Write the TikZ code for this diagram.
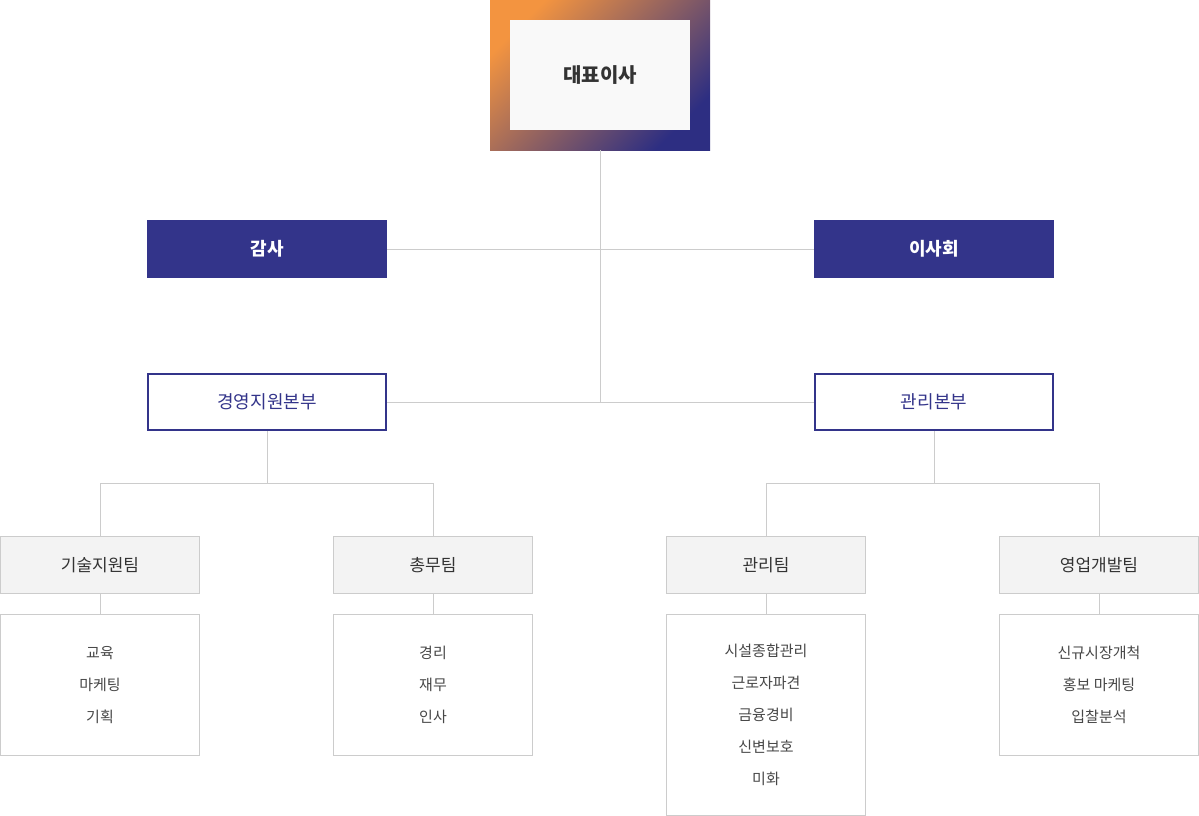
\documentclass[tikz,border=0pt]{standalone}
\usepackage{fontspec}
\usepackage{xcolor}
\newfontfamily\cjk{Noto Sans CJK KR}
\usetikzlibrary{calc, positioning}
\definecolor{Navy}{HTML}{33348A}
\definecolor{GradOrange}{HTML}{F39440}
\definecolor{GradNavy}{HTML}{2D2E82}
\definecolor{LineGray}{HTML}{CCCCCC}
\definecolor{TeamFill}{HTML}{F3F3F3}
\definecolor{CeoFill}{HTML}{F9F9F9}
\definecolor{InkDark}{HTML}{333333}
\tikzset{>=latex,
  conn/.style={draw=LineGray, line width=1pt},
  darkbox/.style={fill=Navy, text=white, minimum width=240pt, minimum height=58pt, inner sep=0pt, font=\cjk\fontsize{18}{20}\selectfont\bfseries},
  linebox/.style={draw=Navy, line width=2pt, fill=white, text=Navy, minimum width=238pt, minimum height=56pt, inner sep=0pt, font=\cjk\fontsize{18}{20}\selectfont},
  teambox/.style={draw=LineGray, line width=1pt, fill=TeamFill, text=InkDark, minimum width=199pt, minimum height=57pt, inner sep=0pt, font=\cjk\fontsize{17}{20}\selectfont},
  itembox/.style={draw=LineGray, line width=1pt, fill=white, text=InkDark!90, minimum width=199pt, anchor=north, inner sep=0pt, align=center, font=\cjk\fontsize{15}{32}\selectfont}}

\begin{document}
\begin{tikzpicture}[x=1pt, y=-1pt]
\useasboundingbox (0,0) rectangle (1199,816);
% top
\shade[top color=GradOrange, bottom color=GradNavy, shading angle=45] (490,0) rectangle (710,150);
\node[fill=CeoFill, minimum width=180pt, minimum height=110pt, inner sep=0pt, text=InkDark, font=\cjk\fontsize{20}{22}\selectfont\bfseries] (ceo) at (600,75) {대표이사};
\coordinate (ceoFoot) at (600,150);
\coordinate (hubLow) at (600,402);
% second level
\node[darkbox] (audit) at (267,249) {감사};
\node[darkbox] (board) at (934,249) {이사회};
\node[linebox] (support) at (267,402) {경영지원본부};
\node[linebox] (admin) at (934,402) {관리본부};
\draw[conn] (ceoFoot) -- (hubLow);
\draw[conn] (audit) -- (board);
\draw[conn] (support) -- (admin);
% teams
\node[teambox] (techTeam) at (100,565) {기술지원팀};
\node[teambox] (genTeam) at (433,565) {총무팀};
\node[teambox] (admTeam) at (766,565) {관리팀};
\node[teambox] (salesTeam) at (1099,565) {영업개발팀};
\coordinate (splitL) at (267,483);
\coordinate (splitR) at (934,483);
\draw[conn] (support.south) -- (splitL) -| (techTeam.north);
\draw[conn] (splitL) -| (genTeam.north);
\draw[conn] (admin.south) -- (splitR) -| (admTeam.north);
\draw[conn] (splitR) -| (salesTeam.north);
% duties
\node[itembox, minimum height=141pt] (techJobs) at (100,614) {교육\\마케팅\\기획};
\node[itembox, minimum height=141pt] (genJobs) at (433,614) {경리\\재무\\인사};
\node[itembox, minimum height=201pt] (admJobs) at (766,614) {시설종합관리\\근로자파견\\금융경비\\신변보호\\미화};
\node[itembox, minimum height=141pt] (salesJobs) at (1099,614) {신규시장개척\\홍보 마케팅\\입찰분석};
\foreach \t/\j in {techTeam/techJobs, genTeam/genJobs, admTeam/admJobs, salesTeam/salesJobs}
  \draw[conn] (\t) -- (\j);
\end{tikzpicture}
\end{document}
